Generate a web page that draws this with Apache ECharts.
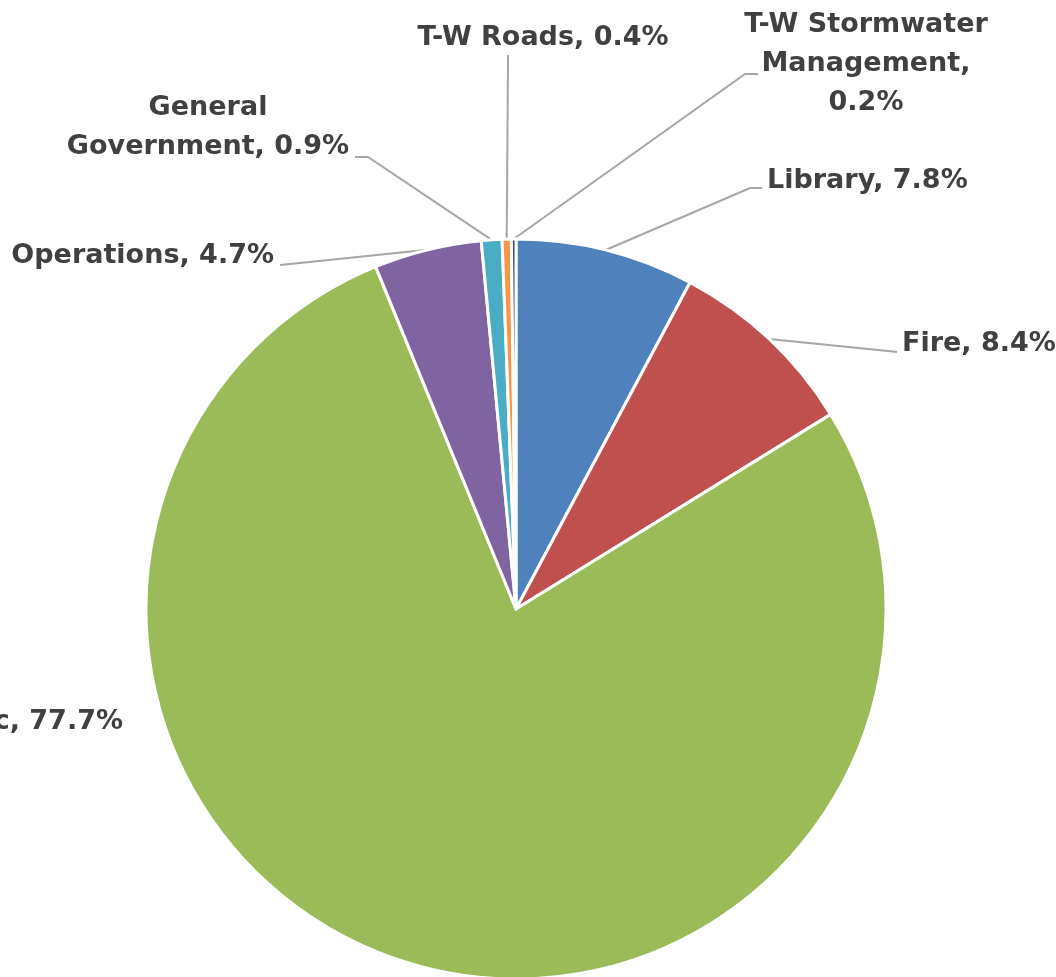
<!DOCTYPE html>
<html>
<head>
<meta charset="utf-8">
<title>Budget share by function</title>
<script src="https://cdn.jsdelivr.net/npm/echarts@6/dist/echarts.min.js"></script>
<style>
  html, body { margin: 0; padding: 0; background: #ffffff; }
  #chart { width: 1056px; height: 977px; }
</style>
</head>
<body>
<div id="chart"></div>
<script>
// Share of the budget by function, clockwise from 12 o'clock
const categories = ['Library', 'Fire', 'Public', 'Operations', 'General Government', 'T-W Roads', 'T-W Stormwater Management'];
const shares = [7.8, 8.4, 77.7, 4.7, 0.9, 0.4, 0.2];
const sliceColors = ['#4F81BD', '#C0504D', '#9BBB59', '#8064A2', '#4BACC6', '#F79646', '#2C4D75'];

// Line-break points for the longer labels
const labelBreaks = {
  'General Government': ['General', 'Government, '],
  'T-W Stormwater Management': ['T-W Stormwater', 'Management,', '']
};

// Label anchors and leader-line bends (page pixels)
const labelPlacement = {
  'Library': { x: 767, y: 181, align: 'left', bend: [[750, 188], [762, 188]] },
  'Fire': { x: 902, y: 344, align: 'left', bend: [[888, 351], [897, 352]] },
  'Public': { x: 123, y: 722, align: 'right', bend: null },
  'Operations': { x: 274, y: 256, align: 'right', bend: [[290, 264], [280, 265]] },
  'General Government': { x: 208, y: 127, align: 'center', bend: [[368, 157], [355, 157]] },
  'T-W Roads': { x: 543, y: 38, align: 'center', bend: [[508, 62], [508, 55]] },
  'T-W Stormwater Management': { x: 866, y: 64, align: 'center', bend: [[745, 74], [758, 74]] }
};

const pieData = categories.map((name, i) => ({
  name: name,
  value: shares[i],
  itemStyle: { color: sliceColors[i] },
  labelLine: { show: labelPlacement[name].bend !== null }
}));

const chart = echarts.init(document.getElementById('chart'), null, { renderer: 'canvas' });

chart.setOption({
  backgroundColor: '#ffffff',
  animation: false,
  series: [{
    type: 'pie',
    center: [516, 609],
    radius: [0, 370],
    startAngle: 90,
    clockwise: true,
    avoidLabelOverlap: false,
    data: pieData,
    itemStyle: { borderColor: '#ffffff', borderWidth: 3 },
    label: {
      show: true,
      position: 'outside',
      color: '#404040',
      fontFamily: 'DejaVu Sans',
      fontWeight: 'bold',
      fontSize: 27,
      lineHeight: 39,
      formatter: function (p) {
        const pct = p.value.toFixed(1) + '%';
        const parts = labelBreaks[p.name];
        if (!parts) return p.name + ', ' + pct;
        const lines = parts.slice();
        lines[lines.length - 1] = lines[lines.length - 1] + pct;
        return lines.join('\n');
      }
    },
    labelLine: {
      show: true,
      length: 10,
      length2: 10,
      lineStyle: { color: '#A6A6A6', width: 2 }
    },
    emphasis: { disabled: true }
  }]
});

chart.setOption({
  series: [{
    labelLayout: function (params) {
      const name = categories[params.dataIndex];
      const place = labelPlacement[name];
      const out = {
        x: place.x,
        y: place.y,
        align: place.align,
        verticalAlign: 'middle'
      };
      if (place.bend && params.labelLinePoints) {
        out.labelLinePoints = [params.labelLinePoints[0]].concat(place.bend);
      }
      return out;
    }
  }]
});
</script>
</body>
</html>
